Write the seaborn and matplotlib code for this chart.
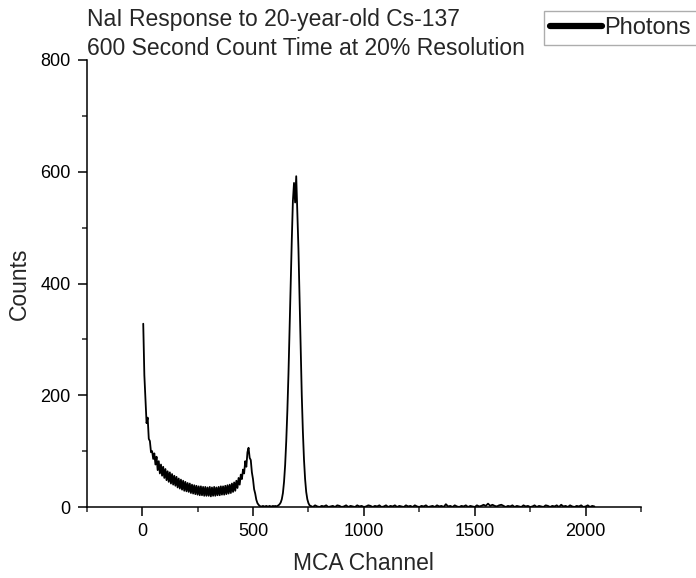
import matplotlib
matplotlib.use("Agg")
import matplotlib.pyplot as plt
import seaborn as sns
import pandas as pd

# ---- data (MCA channel vs counts) ----
# low-energy region, every 5 channels (5 .. 755)
low_channels = list(range(5, 760, 5))
low_counts = [
    328, 236, 195, 150, 160, 122, 118, 98, 100, 86,        # 5-50
    96, 76, 90, 66, 82, 60, 76, 56, 72, 52,                # 55-100
    68, 48, 64, 45, 62, 42, 59, 40, 56, 38,                # 105-150
    54, 35, 51, 33, 49, 31, 47, 29, 45, 28,                # 155-200
    43, 27, 42, 25, 40, 24, 39, 23, 38, 22,                # 205-250
    37, 21, 37, 21, 36, 20, 36, 20, 35, 20,                # 255-300
    36, 19, 35, 20, 36, 20, 35, 21, 36, 21,                # 305-350
    37, 22, 37, 22, 38, 23, 39, 24, 40, 25,                # 355-400
    42, 27, 44, 29, 47, 34, 52, 40, 58, 50,                # 405-450
    67, 60, 82, 72, 98, 106, 88, 84, 62, 50,               # 455-500
    32, 24, 13, 7, 4, 2, 1, 1, 2, 1,                       # 505-550
    1, 2, 1, 1, 2, 1, 1, 2, 1, 2,                          # 555-600
    1, 2, 3, 5, 8, 14, 25, 45, 75, 118,                    # 605-650
    172, 238, 318, 400, 478, 548, 580, 545, 592, 530,      # 655-700
    462, 372, 282, 200, 135, 85, 50, 27, 14, 7,            # 705-750
    3,                                                     # 755
]

# high-energy tail, every 10 channels (760 .. 2040)
high_channels = list(range(760, 2050, 10))
high_counts = [
    2, 0, 3, 1, 0, 2, 1, 3, 0, 1,      # 760-850
    2, 0, 3, 2, 0, 1, 3, 0, 2, 1,      # 860-950
    0, 3, 1, 2, 0, 1, 3, 2, 0, 2,      # 960-1050
    1, 3, 0, 1, 3, 0, 2, 1, 3, 0,      # 1060-1150
    2, 1, 0, 3, 1, 2, 0, 3, 1, 0,      # 1160-1250
    2, 1, 3, 0, 1, 2, 0, 3, 1, 2,      # 1260-1350
    0, 5, 1, 2, 0, 3, 1, 0, 2, 1,      # 1360-1450
    3, 0, 2, 1, 0, 3, 1, 2, 4, 2,      # 1460-1550
    6, 2, 4, 2, 1, 3, 4, 2, 0, 2,      # 1560-1650
    1, 3, 0, 2, 1, 0, 3, 1, 2, 0,      # 1660-1750
    1, 3, 0, 2, 1, 0, 3, 2, 0, 2,      # 1760-1850
    1, 3, 0, 4, 1, 2, 0, 3, 1, 0,      # 1860-1950
    2, 1, 3, 0, 1, 3, 0, 2, 1,         # 1960-2040
]

title_lines = ["NaI Response to 20-year-old Cs-137",
               "600 Second Count Time at 20% Resolution"]
x_label = "MCA Channel"
y_label = "Counts"
series_name = "Photons"
x_ticks = [0, 500, 1000, 1500, 2000]
y_ticks = [0, 200, 400, 600, 800]

df = pd.DataFrame({
    "channel": low_channels + high_channels,
    "counts": low_counts + high_counts,
})

sns.set_theme(style="ticks")
plt.rcParams["font.family"] = ["Liberation Sans", "DejaVu Sans"]

fig = plt.figure(figsize=(6.96, 5.78), dpi=100)
ax = fig.add_axes([86.7 / 696, 71 / 578, (641 - 86.7) / 696, (507 - 60) / 578])

sns.lineplot(data=df, x="channel", y="counts", color="black", lw=1.3,
             ax=ax, label=series_name, legend=False)

ax.set_xlim(-250, 2250)
ax.set_ylim(0, 800)
ax.set_xticks(x_ticks)
ax.set_yticks(y_ticks)
ax.set_xticks([-250, 250, 750, 1250, 1750, 2250], minor=True)
ax.set_yticks([100, 300, 500, 700], minor=True)
ax.tick_params(which="major", direction="out", length=6.5, width=1.1,
               labelsize=13, pad=5, colors="black")
ax.tick_params(which="minor", direction="out", length=3.5, width=1.1)
for s in ["left", "bottom"]:
    ax.spines[s].set_linewidth(1.1)
    ax.spines[s].set_color("black")
sns.despine(ax=ax)

ax.set_xlabel(x_label, fontsize=16.5, labelpad=9)
ax.set_ylabel(y_label, fontsize=16.5, labelpad=7)
ax.set_title("\n".join(title_lines), loc="left", fontsize=16.5,
             pad=2, linespacing=1.35)

handle = plt.Line2D([], [], color="black", lw=4.5)
leg = fig.legend([handle], [series_name], loc="upper left",
                 bbox_to_anchor=(544 / 696, 1 - 11 / 578),
                 fontsize=17, frameon=True, fancybox=False,
                 handlelength=2.2, handletextpad=0.1, borderpad=0.25,
                 borderaxespad=0)
leg.get_frame().set_edgecolor("#999999")
leg.get_frame().set_linewidth(1.0)

fig.savefig("out.png", dpi=100)
